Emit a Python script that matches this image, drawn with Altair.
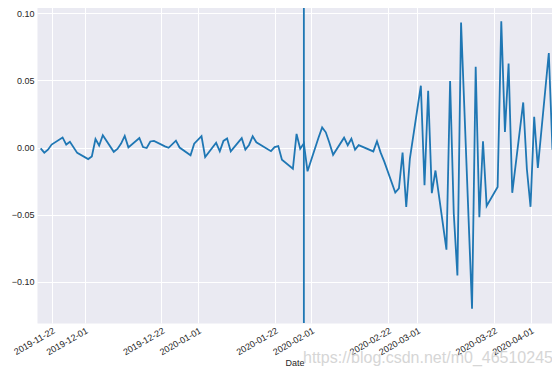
import altair as alt
import pandas as pd

# ---- data (daily returns) ----
dates = [
    "2019-11-19", "2019-11-20", "2019-11-21", "2019-11-22", "2019-11-25", "2019-11-26", "2019-11-27", "2019-11-29",
    "2019-12-02", "2019-12-03", "2019-12-04", "2019-12-05", "2019-12-06", "2019-12-09", "2019-12-10", "2019-12-11",
    "2019-12-12", "2019-12-13", "2019-12-16", "2019-12-17", "2019-12-18", "2019-12-19", "2019-12-20", "2019-12-23",
    "2019-12-24", "2019-12-26", "2019-12-27", "2019-12-30", "2019-12-31",
    "2020-01-02", "2020-01-03", "2020-01-06", "2020-01-07", "2020-01-08", "2020-01-09", "2020-01-10", "2020-01-13",
    "2020-01-14", "2020-01-15", "2020-01-16", "2020-01-17", "2020-01-21", "2020-01-22", "2020-01-23", "2020-01-24",
    "2020-01-27", "2020-01-28", "2020-01-29", "2020-01-30", "2020-01-31",
    "2020-02-03", "2020-02-04", "2020-02-05", "2020-02-06", "2020-02-07", "2020-02-10", "2020-02-11", "2020-02-12",
    "2020-02-13", "2020-02-14", "2020-02-18", "2020-02-19", "2020-02-20", "2020-02-21", "2020-02-24", "2020-02-25",
    "2020-02-26", "2020-02-27", "2020-02-28",
    "2020-03-02", "2020-03-03", "2020-03-04", "2020-03-05", "2020-03-06", "2020-03-09", "2020-03-10", "2020-03-11",
    "2020-03-12", "2020-03-13", "2020-03-16", "2020-03-17", "2020-03-18", "2020-03-19", "2020-03-20", "2020-03-23",
    "2020-03-24", "2020-03-25", "2020-03-26", "2020-03-27", "2020-03-30", "2020-03-31",
    "2020-04-01", "2020-04-02", "2020-04-03", "2020-04-06", "2020-04-07",
]
returns = [
    -0.0006, -0.0038, -0.0016, 0.0022, 0.0075, 0.0022, 0.0042, -0.0040,
    -0.0086, -0.0066, 0.0063, 0.0015, 0.0091, -0.0032, -0.0011, 0.0029,
    0.0086, 0.0001, 0.0071, 0.0003, -0.0004, 0.0045, 0.0049, 0.0009,
    -0.0002, 0.0051, 0.0000, -0.0058, 0.0029,
    0.0084, -0.0071, 0.0035, -0.0028, 0.0049, 0.0067, -0.0029, 0.0070,
    -0.0015, 0.0019, 0.0084, 0.0039, -0.0027, 0.0003, 0.0011, -0.0090,
    -0.0157, 0.0101, -0.0009, 0.0031, -0.0177,
    0.0073, 0.0150, 0.0113, 0.0033, -0.0054, 0.0073, 0.0017, 0.0065,
    -0.0016, 0.0018, -0.0029, 0.0047, -0.0038, -0.0105, -0.0335, -0.0303,
    -0.0038, -0.0442, -0.0082,
    0.0460, -0.0281, 0.0422, -0.0339, -0.0171, -0.0760, 0.0494, -0.0489,
    -0.0951, 0.0929, -0.1198, 0.0600, -0.0518, 0.0047, -0.0434, -0.0293,
    0.0938, 0.0115, 0.0624, -0.0337, 0.0335, -0.0160,
    -0.0441, 0.0228, -0.0151, 0.0703, -0.0016,
]
tick_dates = ["2019-11-22", "2019-12-01", "2019-12-22", "2020-01-01", "2020-01-22",
              "2020-02-01", "2020-02-22", "2020-03-01", "2020-03-22", "2020-04-01"]
y_ticks = [-0.10, -0.05, 0.00, 0.05, 0.10]
# visible window: the last trading day sits right at the right edge
x_range = ["2019-11-18 00", "2020-04-06 21"]
y_range = [-0.1305, 0.1045]
event_dates = ["2020-01-30"]
watermark = ["https://blog.csdn.net/m0_46510245"]

LINE = "#1f77b4"
TXT = "#262626"
FONT = "Liberation Sans"


def dt(s):
    day, _, hour = s.partition(" ")
    y, m, d = map(int, day.split("-"))
    return alt.DateTime(year=y, month=m, date=d, hours=int(hour or 0), utc=True)


df = pd.DataFrame({"Date": dates, "Return": returns})
ev = pd.DataFrame({"Date": event_dates})
wm = pd.DataFrame({"t": watermark})

xscale = alt.Scale(type="utc", domain=[dt(x_range[0]), dt(x_range[1])])

line = alt.Chart(df).mark_line(color=LINE, strokeWidth=1.8, clip=True).encode(
    x=alt.X("Date:T", scale=xscale,
            axis=alt.Axis(values=[dt(s) for s in tick_dates], format="%Y-%m-%d",
                          labelAngle=-30, labelAlign="right", labelBaseline="top",
                          labelPadding=3, labelOverlap=False, labelFlush=False,
                          ticks=False, domain=False, grid=True, gridColor="white",
                          gridWidth=1, labelFontSize=9, labelColor=TXT, labelFont=FONT,
                          title="Date", titleFontSize=9, titleFont=FONT, titleColor=TXT,
                          titleFontWeight="normal", titlePadding=2)),
    y=alt.Y("Return:Q", scale=alt.Scale(domain=y_range, nice=False, zero=False),
            axis=alt.Axis(values=y_ticks, format=".2f", ticks=False, domain=False,
                          grid=True, gridColor="white", gridWidth=1, labelPadding=3,
                          labelFontSize=9, labelColor=TXT, labelFont=FONT, title=None)),
)

rule = alt.Chart(ev).mark_rule(color=LINE, strokeWidth=1.8).encode(x="Date:T")

mark_wm = alt.Chart(wm).mark_text(align="left", baseline="alphabetic", fontSize=16,
                                  font=FONT, color="#cfcfcf", opacity=0.85).encode(
    x=alt.value(266), y=alt.value(356), text="t:N")

chart = alt.layer(line, rule, mark_wm).properties(
    width=515, height=316,
    autosize=alt.AutoSizeParams(type="none"),
    padding={"left": 29, "top": -1, "right": 0, "bottom": 45},
).configure_view(fill="#EAEAF2", stroke="transparent")

chart.save("out.html", embed_options={"renderer": "svg", "actions": False})
